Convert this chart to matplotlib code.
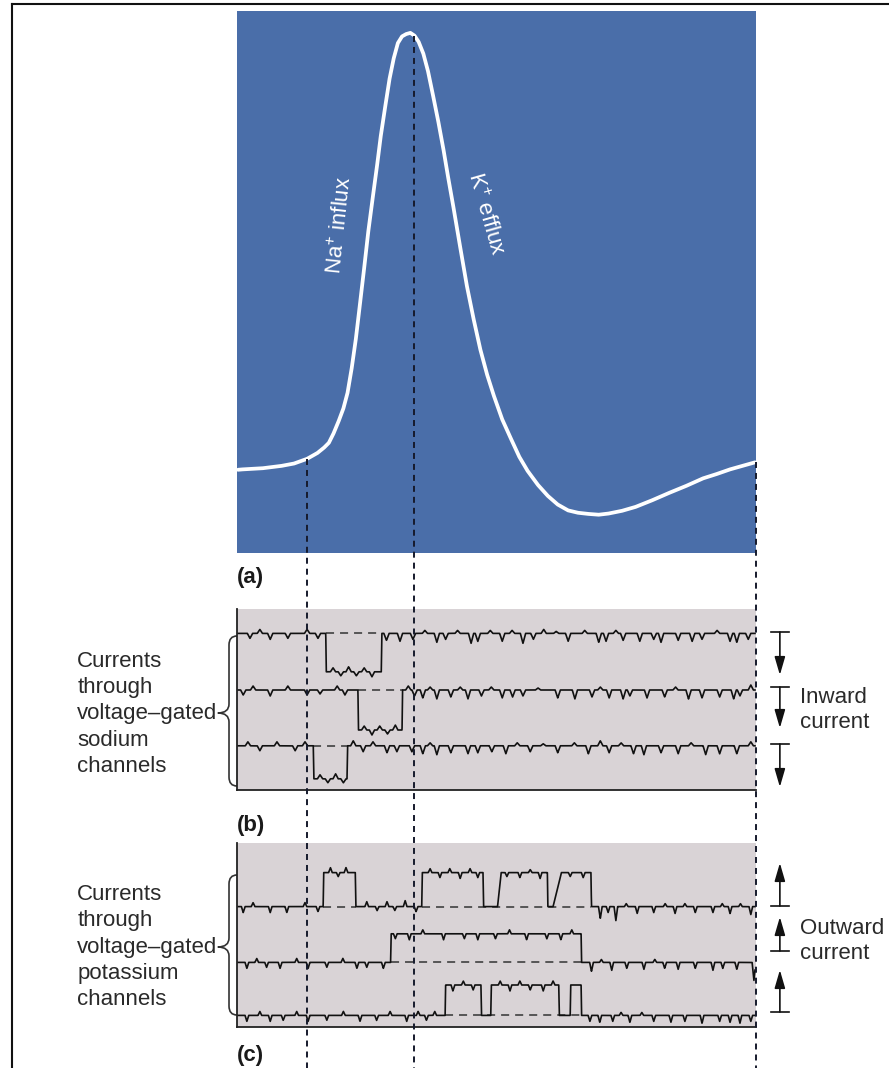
import numpy as np
import matplotlib
matplotlib.use("Agg")
import matplotlib.pyplot as plt
import matplotlib.transforms as mtransforms
from matplotlib.path import Path
from matplotlib.patches import PathPatch
from matplotlib.lines import Line2D

plt.rcParams['font.family'] = ['Liberation Sans', 'DejaVu Sans']
plt.rcParams['mathtext.fontset'] = 'custom'
plt.rcParams['mathtext.rm'] = 'Liberation Sans'
plt.rcParams['lines.scale_dashes'] = False

# ---- data (time in arbitrary ms, 0..10) ----
# (a) action potential
CURVE_T = [0.02, 0.11, 0.50, 0.86, 1.10, 1.35, 1.55, 1.68, 1.77, 1.86, 1.96, 2.05, 2.13,
           2.21, 2.29, 2.37, 2.45, 2.53, 2.62, 2.70, 2.77, 2.86, 2.94, 3.02, 3.10, 3.18,
           3.26, 3.34, 3.42, 3.50, 3.59, 3.68, 3.78, 3.88, 3.98, 4.07, 4.17, 4.30, 4.43,
           4.56, 4.69, 4.82, 4.95, 5.11, 5.28, 5.44, 5.60, 5.80, 5.99, 6.18, 6.38, 6.57,
           6.77, 6.97, 7.16, 7.42, 7.68, 8.00, 8.33, 8.66, 8.98, 9.24, 9.50, 9.74, 9.98]
CURVE_V = [-71.5, -71.4, -71.1, -70.5, -69.9, -68.7, -67.2, -65.8, -64.6, -62.2, -59.0,
           -55.8, -51.8, -45.5, -38.0, -29.0, -19.9, -10.5, -1.4, 6.5, 13.9, 21.8, 28.6,
           33.8, 37.7, 39.4, 40.0, 40.3, 39.6, 38.0, 35.0, 30.5, 24.1, 17.5, 10.3, 3.2,
           -4.3, -14.5, -24.5, -33.0, -40.8, -47.2, -52.6, -58.6, -63.6, -68.2, -71.8,
           -75.4, -78.2, -80.4, -81.9, -82.5, -82.8, -83.0, -82.7, -82.0, -81.0, -79.3,
           -77.4, -75.6, -73.7, -72.6, -71.4, -70.5, -69.6]

# times of the three guide lines: threshold, peak, end
EVENT_T = [1.35, 3.42, 10.0]

# (b) sodium channel sweeps
NA_BASE = [-1.22, -4.05, -6.84]
NA_AMP = [-1.92, -2.0, -1.65]
NA_OPEN = [[(1.71, 2.79)], [(2.33, 3.19)], [(1.47, 2.13)]]
NA_BLIPS = [
    [(0.25, -0.25), (0.44, 0.2), (0.64, -0.3), (0.98, -0.25), (1.35, 0.2), (1.56, -0.25),
     (1.85, 0.2), (2.0, -0.2), (2.15, 0.25), (2.3, -0.2), (2.45, 0.2), (2.6, -0.25),
     (2.88, -0.35), (3.14, -0.4), (3.39, -0.3), (3.62, 0.15), (3.85, -0.45), (4.02, -0.3),
     (4.25, 0.15), (4.51, -0.5), (4.64, -0.4), (4.88, 0.15), (5.11, -0.4), (5.30, 0.15),
     (5.51, -0.5), (5.71, -0.3), (5.91, 0.2), (6.15, 0.1), (6.38, -0.4), (6.70, 0.15),
     (6.97, -0.45), (7.11, -0.4), (7.30, 0.15), (7.44, -0.35), (7.76, -0.4), (8.03, -0.3),
     (8.17, -0.45), (8.50, -0.35), (8.77, -0.4), (8.96, -0.3), (9.25, 0.15), (9.50, -0.4),
     (9.63, -0.45), (9.85, -0.3)],
    [(0.12, -0.25), (0.31, 0.2), (0.64, -0.3), (0.98, 0.2), (1.35, -0.25), (1.60, -0.2),
     (1.93, 0.2), (2.08, -0.25), (2.45, 0.2), (2.6, -0.25), (2.75, 0.2), (2.9, -0.2),
     (3.05, 0.25), (3.30, 0.2), (3.42, -0.3), (3.58, -0.4), (3.72, 0.15), (3.85, -0.45),
     (4.12, -0.35), (4.30, 0.15), (4.45, -0.45), (4.71, -0.3), (4.90, 0.15), (5.11, -0.4),
     (5.31, -0.35), (5.51, -0.3), (5.80, 0.1), (6.18, -0.4), (6.51, -0.45), (6.84, -0.35),
     (7.00, 0.15), (7.17, -0.4), (7.44, -0.45), (7.57, -0.3), (7.90, -0.4), (8.24, -0.35),
     (8.45, 0.15), (8.70, -0.45), (8.96, -0.4), (9.30, -0.35), (9.57, -0.45), (9.69, -0.3),
     (9.9, 0.25)],
    [(0.21, 0.2), (0.44, -0.25), (0.77, 0.2), (1.12, -0.25), (1.31, 0.2),
     (1.6, 0.2), (1.75, -0.2), (1.9, 0.25), (2.05, -0.2),
     (2.24, 0.25), (2.43, -0.3), (2.62, 0.2), (2.89, -0.35), (3.08, -0.3), (3.37, -0.3),
     (3.58, -0.4), (3.72, 0.15), (3.85, -0.45), (4.12, -0.35), (4.45, -0.4), (4.64, -0.35),
     (4.91, -0.3), (5.18, -0.4), (5.40, 0.15), (5.65, -0.3), (5.90, 0.1), (6.18, -0.35),
     (6.50, 0.15), (6.77, -0.4), (7.0, 0.25), (7.17, -0.35), (7.40, 0.15), (7.64, -0.4),
     (7.84, -0.45), (8.17, -0.35), (8.50, -0.4), (8.75, 0.15), (9.03, -0.45), (9.30, -0.4),
     (9.63, -0.4), (9.9, 0.2)],
]

# (c) potassium channel sweeps: (open, close, rise time)
K_BASE = [-3.18, -5.97, -8.62]
K_AMP = [1.7, 1.43, 1.52]
K_OPEN = [[(1.66, 2.29, 0.01), (3.56, 4.75, 0.01), (5.02, 5.99, 0.07), (6.09, 6.83, 0.16)],
          [(2.96, 6.64, 0.01)],
          [(4.01, 4.71, 0.01), (4.89, 6.21, 0.01), (6.42, 6.64, 0.01)]]
K_DASH = [[(1.66, 2.29), (3.56, 6.83)], [(2.96, 6.64)], [(4.01, 6.64)]]
K_BLIPS = [
    [(0.12, -0.3), (0.31, 0.2), (0.64, -0.3), (0.96, -0.3), (1.31, 0.2), (1.56, -0.25),
     (1.8, 0.25), (1.95, -0.2), (2.1, 0.25),
     (2.50, 0.25), (2.70, -0.2), (2.89, 0.25), (3.04, -0.2), (3.24, 0.3), (3.45, -0.25),
     (3.72, 0.2), (3.91, -0.25), (4.10, 0.2), (4.30, -0.3), (4.49, 0.2), (4.64, -0.25),
     (5.2, -0.2), (5.45, -0.25), (5.65, 0.15), (5.84, -0.3),
     (6.42, -0.2), (6.67, -0.25),
     (7.0, -0.6), (7.15, -0.3), (7.3, -0.7), (7.5, 0.15), (7.71, -0.35), (8.03, -0.3),
     (8.25, 0.15), (8.44, -0.35), (8.63, 0.15), (8.83, -0.3), (9.17, -0.3), (9.35, 0.15),
     (9.50, -0.35), (9.70, 0.15), (9.90, -0.4)],
    [(0.19, -0.3), (0.38, 0.2), (0.57, -0.25), (0.83, -0.3), (1.15, 0.2), (1.37, -0.3),
     (1.73, -0.25), (2.04, 0.2), (2.31, -0.3), (2.50, -0.25), (2.82, -0.3),
     (3.05, -0.25), (3.32, -0.3), (3.58, 0.2), (3.98, -0.3), (4.38, -0.25), (4.64, -0.3),
     (4.98, -0.25), (5.25, 0.2), (5.58, -0.3), (5.97, -0.25), (6.24, -0.3), (6.45, 0.2),
     (6.83, -0.45), (7.02, 0.15), (7.22, -0.4), (7.51, -0.3), (7.84, -0.35), (8.05, 0.15),
     (8.24, -0.3), (8.50, -0.35), (8.83, -0.3), (9.17, -0.4), (9.36, -0.3), (9.63, -0.35),
     (9.96, -0.9)],
    [(0.19, -0.3), (0.44, 0.2), (0.64, -0.3), (0.89, -0.25), (1.15, 0.2), (1.37, -0.3),
     (1.73, -0.25), (2.05, 0.2), (2.37, -0.3), (2.69, -0.25), (2.95, 0.2), (3.27, -0.3),
     (3.49, 0.2), (3.65, -0.25), (3.81, 0.2),
     (4.16, -0.3), (4.36, 0.2), (4.55, -0.25),
     (5.07, 0.2), (5.26, -0.3), (5.45, 0.2), (5.65, -0.25), (5.90, -0.3), (6.09, 0.2),
     (6.80, -0.3), (6.99, -0.35), (7.24, -0.3), (7.40, 0.15), (7.57, -0.35), (7.80, 0.15),
     (8.03, -0.3), (8.36, -0.35), (8.63, -0.3), (8.96, -0.4), (9.30, -0.3), (9.50, -0.35),
     (9.69, -0.4), (9.90, -0.3)],
]

# arrows on the right (start, length) and braces (top, bottom, tip)
NA_ARROW_Y = [-1.15, -3.9, -6.75]
NA_ARROW_LEN = [-2.15, -2.05, -2.15]
K_ARROW_Y = [-3.15, -5.4, -8.45]
K_ARROW_LEN = [2.15, 1.7, 2.1]
BRACE_B = (-1.35, -8.85, -5.2)
BRACE_C = (-1.6, -8.6, -5.2)

BLUE = '#4a6ea9'
GREY = '#d9d3d6'
INK = '#111111'
TEXT = '#2a2a2a'

W, H = 889, 1068
fig = plt.figure(figsize=(W / 100, H / 100), dpi=100)


def px_rect(x0, y0, x1, y1):
    return [x0 / W, 1 - y1 / H, (x1 - x0) / W, (y1 - y0) / H]


ax_a = fig.add_axes(px_rect(237, 11, 756, 553))
ax_b = fig.add_axes(px_rect(237, 609, 756, 790))
ax_c = fig.add_axes(px_rect(237, 843, 756, 1027))

ax_a.set_xlim(0, 10)
ax_a.set_ylim(-92.8, 45.9)
ax_a.set_facecolor(BLUE)
ax_a.set_xticks([])
ax_a.set_yticks([])
for s in ax_a.spines.values():
    s.set_visible(False)
ax_a.plot(CURVE_T, CURVE_V, color='white', lw=2.7, solid_capstyle='round',
          solid_joinstyle='round')
ax_a.text(2.0, -8.9, r'Na$^{+}$ influx', rotation=84, rotation_mode='anchor',
          ha='center', va='center', color='white', fontsize=16)
ax_a.text(4.79, -6.0, r'K$^{+}$ efflux', rotation=-74, rotation_mode='anchor',
          ha='center', va='center', color='white', fontsize=16)

T = np.linspace(0.02, 9.98, 4000)


def trace(base, amp, openings, blips, w):
    y = np.full_like(T, base)
    for op in openings:
        on, off = op[0], op[1]
        rise = op[2] if len(op) > 2 else 0.01
        frac = np.clip(np.minimum((T - on) / rise, (off - T) / 0.01), 0, 1)
        y += amp * frac
    for tb, d in blips:
        y += d * np.clip(1 - np.abs(T - tb) / w, 0, 1)
    return y


def brace(ax, top, bot, tip, xs=-0.0154, xt=-0.037, r=0.45):
    tr = mtransforms.blended_transform_factory(ax.transAxes, ax.transData)
    verts = [(0, top), (xs, top), (xs, top - r), (xs, tip + r), (xs, tip), (xt, tip),
             (xs, tip), (xs, tip - r), (xs, bot + r), (xs, bot), (0, bot)]
    codes = [Path.MOVETO, Path.CURVE3, Path.CURVE3, Path.LINETO, Path.CURVE3, Path.CURVE3,
             Path.CURVE3, Path.CURVE3, Path.LINETO, Path.CURVE3, Path.CURVE3]
    ax.add_patch(PathPatch(Path(verts, codes), transform=tr, fill=False, lw=1.2,
                           edgecolor='#333333', clip_on=False))


def arrows(ax, starts, lengths):
    tr = mtransforms.blended_transform_factory(ax.transAxes, ax.transData)
    for y0, ln in zip(starts, lengths):
        ax.plot([1.029, 1.064], [y0, y0], color=INK, lw=1.2, transform=tr, clip_on=False)
        ax.annotate('', xy=(1.046, y0 + ln), xytext=(1.046, y0), xycoords=tr,
                    textcoords=tr,
                    arrowprops=dict(arrowstyle='-|>,head_length=0.55,head_width=0.16',
                                    color=INK, lw=1.2, mutation_scale=20,
                                    shrinkA=0, shrinkB=0))


def setup_sweeps(ax, ylim):
    ax.set_xlim(0, 10)
    ax.set_ylim(*ylim)
    ax.set_facecolor(GREY)
    ax.set_xticks([])
    ax.set_yticks([])
    ax.spines['top'].set_visible(False)
    ax.spines['right'].set_visible(False)
    ax.spines['left'].set_color('#222222')
    ax.spines['bottom'].set_color('#222222')
    ax.spines['left'].set_linewidth(1.3)
    ax.spines['bottom'].set_linewidth(1.3)


setup_sweeps(ax_b, (-9.05, 0))
for i in range(3):
    for on, off in NA_OPEN[i]:
        ax_b.plot([on, off], [NA_BASE[i]] * 2, color='#333333', lw=1.1,
                  dashes=(5.8, 4.3))
    ax_b.plot(T, trace(NA_BASE[i], NA_AMP[i], NA_OPEN[i], NA_BLIPS[i], 0.05),
              color=INK, lw=1.2)

setup_sweeps(ax_c, (-9.2, 0))
for i in range(3):
    for on, off in K_DASH[i]:
        ax_c.plot([on, off], [K_BASE[i]] * 2, color='#333333', lw=1.1,
                  dashes=(5.8, 4.3))
    ax_c.plot(T, trace(K_BASE[i], K_AMP[i], K_OPEN[i], K_BLIPS[i], 0.035),
              color=INK, lw=1.2)

brace(ax_b, *BRACE_B)
brace(ax_c, *BRACE_C)
arrows(ax_b, NA_ARROW_Y, NA_ARROW_LEN)
arrows(ax_c, K_ARROW_Y, K_ARROW_LEN)

tb = mtransforms.blended_transform_factory(ax_b.transAxes, ax_b.transData)
tc = mtransforms.blended_transform_factory(ax_c.transAxes, ax_c.transData)
ax_b.text(-0.308, -5.25, 'Currents\nthrough\nvoltage\u2013gated\nsodium\nchannels',
          transform=tb, ha='left', va='center', fontsize=16, linespacing=1.32, color=TEXT)
ax_c.text(-0.308, -5.2, 'Currents\nthrough\nvoltage\u2013gated\npotassium\nchannels',
          transform=tc, ha='left', va='center', fontsize=16, linespacing=1.32, color=TEXT)
ax_b.text(1.085, -5.05, 'Inward\ncurrent', transform=tb, ha='left', va='center',
          fontsize=16, linespacing=1.22, color=TEXT)
ax_c.text(1.085, -4.9, 'Outward\ncurrent', transform=tc, ha='left', va='center',
          fontsize=16, linespacing=1.22, color=TEXT)

for lab, ypx in [('(a)', 577), ('(b)', 826), ('(c)', 1055)]:
    fig.text(237 / W, 1 - ypx / H, lab, ha='left', va='center', fontsize=16,
             fontweight='bold', color='#1a1a1a')

# vertical guide lines through all three panels
to_fig = fig.transFigure.inverted()
for t in EVENT_T:
    v0 = np.interp(t, CURVE_T, CURVE_V)
    x0, y0 = to_fig.transform(ax_a.transData.transform((t, v0)))
    fig.add_artist(Line2D([x0, x0], [y0, 0], color='#161a2c', lw=1.4,
                          dashes=(4.3, 3.6), zorder=10))

# page frame
fig.add_artist(Line2D([12 / W, 12 / W], [0, 1 - 4 / H], color=INK, lw=1.5))
fig.add_artist(Line2D([12 / W, 1], [1 - 4 / H, 1 - 4 / H], color=INK, lw=1.5))

fig.savefig('out.png', dpi=100)
